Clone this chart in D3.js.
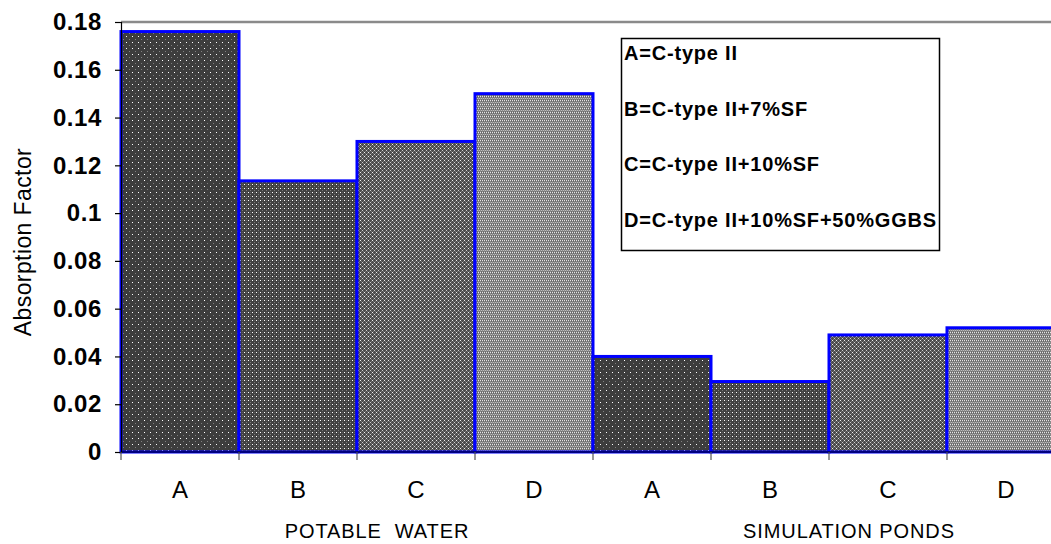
<!DOCTYPE html>
<html>
<head>
<meta charset="utf-8">
<script src="https://cdn.jsdelivr.net/npm/d3@7"></script>
<style>
  html, body { margin: 0; padding: 0; background: #fff; }
  svg { display: block; font-family: "Liberation Sans", Arial, sans-serif; }
</style>
</head>
<body>
<svg id="chart" width="1051" height="544"></svg>
<script>
// Mix codes and exposure groups
const mixes = ["A", "B", "C", "D"];
const groups = ["POTABLE  WATER", "SIMULATION PONDS"];
// Absorption factor per mix, one array per exposure
const potableWater = [0.176, 0.1135, 0.130, 0.150];
const simulationPonds = [0.040, 0.0295, 0.049, 0.052];
const yTicks = [0, 0.02, 0.04, 0.06, 0.08, 0.1, 0.12, 0.14, 0.16, 0.18];
const legendLines = [
  "A=C-type II",
  "B=C-type II+7%SF",
  "C=C-type II+10%SF",
  "D=C-type II+10%SF+50%GGBS"
];

const rows = [];
groups.forEach((g, gi) => {
  const vals = gi === 0 ? potableWater : simulationPonds;
  mixes.forEach((m, mi) => rows.push({ key: gi + "-" + m, group: g, mix: m, mi, value: vals[mi] }));
});

const svg = d3.select("#chart");
const plotLeft = 121, plotTop = 22, plotBottom = 452, plotRight = 1065;

const x = d3.scaleBand().domain(rows.map(d => d.key)).range([plotLeft, plotRight]).padding(0);
const y = d3.scaleLinear().domain([0, 0.18]).range([plotBottom, plotTop]);

// Fill patterns, one per mix
const defs = svg.append("defs");
function pattern(id, size, bg, dots) {
  const p = defs.append("pattern").attr("id", id).attr("patternUnits", "userSpaceOnUse")
    .attr("width", size[0]).attr("height", size[1]);
  p.append("rect").attr("width", size[0]).attr("height", size[1]).attr("fill", bg);
  dots.forEach(([dx, dy, w, h, c]) => p.append("rect").attr("x", dx).attr("y", dy)
    .attr("width", w).attr("height", h).attr("fill", c).attr("shape-rendering", "crispEdges"));
}
pattern("pA", [6, 6], "#3d3d3d", [[0, 0, 1, 1, "#ffffff"], [3, 3, 1, 1, "#808080"]]);
pattern("pB", [4, 4], "#424242", [[0, 0, 1, 1, "#ffffff"], [2, 2, 1, 1, "#7a7a7a"], [2, 0, 1, 1, "#5a5a5a"]]);
pattern("pC", [4, 4], "#4a4a4a", [[0, 0, 1, 1, "#f0f0f0"], [1, 1, 1, 1, "#777"], [3, 1, 1, 1, "#777"], [2, 2, 1, 1, "#cfcfcf"], [1, 3, 1, 1, "#777"], [3, 3, 1, 1, "#777"]]);
pattern("pD", [2, 4], "#6c6c6c", [[0, 0, 1, 4, "#8a8a8a"], [0, 0, 1, 1, "#e6e6e6"], [1, 2, 1, 1, "#bdbdbd"]]);
const fills = ["url(#pA)", "url(#pB)", "url(#pC)", "url(#pD)"];

// Top plot-area border
svg.append("line").attr("x1", plotLeft).attr("x2", 1051).attr("y1", plotTop).attr("y2", plotTop)
  .attr("stroke", "#8a8a8a").attr("stroke-width", 2.5);

// Bars
svg.append("g").selectAll("rect").data(rows).join("rect")
  .attr("x", d => x(d.key))
  .attr("y", d => y(d.value))
  .attr("width", x.bandwidth())
  .attr("height", d => y(0) - y(d.value))
  .attr("fill", d => fills[d.mi])
  .attr("stroke", "#0000ff")
  .attr("stroke-width", 3);

// Y axis
const yAxis = svg.append("g").attr("transform", `translate(${plotLeft},0)`)
  .call(d3.axisLeft(y).tickValues(yTicks).tickSize(6).tickPadding(13)
    .tickFormat(d => d === 0 ? "0" : String(+d.toFixed(2))));
yAxis.select(".domain").attr("stroke", "#000").attr("stroke-width", 1.2);
yAxis.selectAll(".tick line").attr("stroke", "#000").attr("stroke-width", 1.2);
yAxis.selectAll(".tick text").attr("fill", "#000").attr("font-size", 24).attr("font-weight", "bold")
  .attr("letter-spacing", "0.6px")
  .attr("font-family", "'Liberation Sans', Arial, sans-serif");

// X axis with ticks on category boundaries
const xAxisG = svg.append("g");
xAxisG.append("line").attr("x1", plotLeft).attr("x2", 1051).attr("y1", plotBottom).attr("y2", plotBottom)
  .attr("stroke", "#000").attr("stroke-width", 1.2);
const bounds = rows.map(d => x(d.key));
xAxisG.selectAll("line.tk").data(bounds).join("line").attr("class", "tk")
  .attr("x1", d => d).attr("x2", d => d).attr("y1", plotBottom).attr("y2", plotBottom + 8)
  .attr("stroke", "#555").attr("stroke-width", 1.2);

// Mix letters
svg.append("g").selectAll("text").data(rows).join("text")
  .attr("x", d => x(d.key) + x.bandwidth() / 2)
  .attr("y", 498)
  .attr("text-anchor", "middle")
  .attr("font-size", 24)
  .attr("fill", "#000")
  .text(d => d.mix);

// Group labels, set slightly right of each group's middle
svg.append("g").selectAll("text").data(groups).join("text")
  .attr("x", g => {
    const keys = rows.filter(r => r.group === g).map(r => r.key);
    return (x(keys[0]) + x(keys[keys.length - 1]) + x.bandwidth()) / 2 + 20;
  })
  .attr("y", 538)
  .attr("text-anchor", "middle")
  .attr("font-size", 20)
  .attr("letter-spacing", "0.9px")
  .attr("fill", "#000")
  .style("white-space", "pre")
  .attr("xml:space", "preserve")
  .text(d => d);

// Y axis title
svg.append("text")
  .attr("transform", "translate(31,242) rotate(-90)")
  .attr("text-anchor", "middle")
  .attr("font-size", 23)
  .attr("letter-spacing", "0.4px")
  .attr("fill", "#000")
  .text("Absorption Factor");

// Legend box
const lg = svg.append("g");
lg.append("rect").attr("x", 621.5).attr("y", 38.5).attr("width", 318).attr("height", 212)
  .attr("fill", "#fff").attr("stroke", "#000").attr("stroke-width", 1.5);
lg.selectAll("text").data(legendLines).join("text")
  .attr("x", 624)
  .attr("y", (d, i) => 60 + i * 55.5)
  .attr("font-size", 20)
  .attr("font-weight", "bold")
  .attr("letter-spacing", "0.8px")
  .attr("fill", "#000")
  .text(d => d);
</script>
</body>
</html>
